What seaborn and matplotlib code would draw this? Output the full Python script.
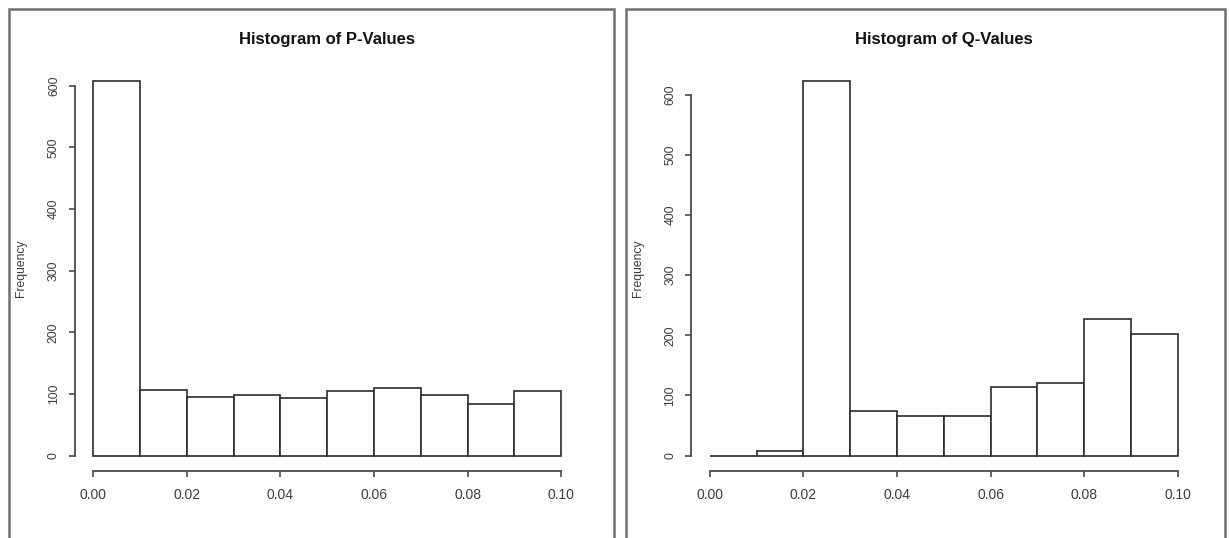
import numpy as np
import pandas as pd
import matplotlib
matplotlib.use("Agg")
import matplotlib.pyplot as plt
from matplotlib.patches import Rectangle
import seaborn as sns

# Histogram bins (shared by both panels)
bin_edges = [0.00, 0.01, 0.02, 0.03, 0.04, 0.05, 0.06, 0.07, 0.08, 0.09, 0.10]

# Counts per bin
p_counts = [607, 106, 95, 99, 93, 104, 110, 99, 83, 104]
q_counts = [0, 7, 622, 74, 65, 66, 114, 121, 227, 202]

titles = ["Histogram of P-Values", "Histogram of Q-Values"]
x_ticks = [0.00, 0.02, 0.04, 0.06, 0.08, 0.10]
x_tick_labels = ["0.00", "0.02", "0.04", "0.06", "0.08", "0.10"]
y_ticks = [0, 100, 200, 300, 400, 500, 600]

sns.set_style("white")
plt.rcParams["font.family"] = ["Liberation Sans", "DejaVu Sans"]

W, H = 1230, 538
fig = plt.figure(figsize=(W / 100, H / 100), dpi=100)

axis_col = "#4a4a4a"
text_col = "#3c3c3c"
edge_col = "#2b2b2b"


def px_axes(x0, x1, y_top, y_bot):
    return fig.add_axes([x0 / W, 1 - y_bot / H, (x1 - x0) / W, (y_bot - y_top) / H])


def draw_panel(ax, counts, title):
    centers = [(a + b) / 2 for a, b in zip(bin_edges[:-1], bin_edges[1:])]
    df = pd.DataFrame({"value": centers, "count": counts})
    sns.histplot(data=df, x="value", weights="count", bins=bin_edges, ax=ax,
                 color="white", edgecolor=edge_col, linewidth=1.2, alpha=1)
    top = max(counts)
    ax.set_xlim(-0.004, 0.104)
    ax.set_ylim(-0.04 * top, 1.04 * top)
    for side in ["top", "right"]:
        ax.spines[side].set_visible(False)
    for side in ["left", "bottom"]:
        ax.spines[side].set_color(axis_col)
        ax.spines[side].set_linewidth(1.3)
    ax.spines["left"].set_bounds(0, 600)
    ax.spines["bottom"].set_bounds(0, 0.10)
    ax.set_xticks(x_ticks)
    ax.set_xticklabels(x_tick_labels, fontsize=10, color=text_col)
    ax.set_yticks(y_ticks)
    ax.set_yticklabels([str(v) for v in y_ticks], fontsize=8.7, color=text_col,
                       rotation=90, va="center")
    ax.tick_params(axis="both", direction="out", length=4.5, width=1.2,
                   color=axis_col, bottom=True, left=True)
    ax.tick_params(axis="x", pad=8)
    ax.tick_params(axis="y", pad=6)
    ax.set_xlabel("")
    ax.set_ylabel("Frequency", fontsize=8.7, color=text_col, labelpad=15)
    ax.set_title(title, fontsize=12, fontweight="bold", color="#111111", pad=16)
    ax.patch.set_alpha(0)


ax1 = px_axes(74.5, 579.8, 66.5, 470.5)
draw_panel(ax1, p_counts, titles[0])
ax2 = px_axes(691.0, 1196.5, 66.5, 470.5)
draw_panel(ax2, q_counts, titles[1])

# Frames around each plot window
for x0, x1 in [(8.7, 613.5), (625.5, 1224.5)]:
    fig.patches.append(Rectangle((x0 / W, -0.05), (x1 - x0) / W, 1.05 - 8.6 / H,
                                 transform=fig.transFigure, fill=False,
                                 edgecolor="#6f6f6f", linewidth=1.8, zorder=0))

fig.savefig("out.png", dpi=100, facecolor="white")
